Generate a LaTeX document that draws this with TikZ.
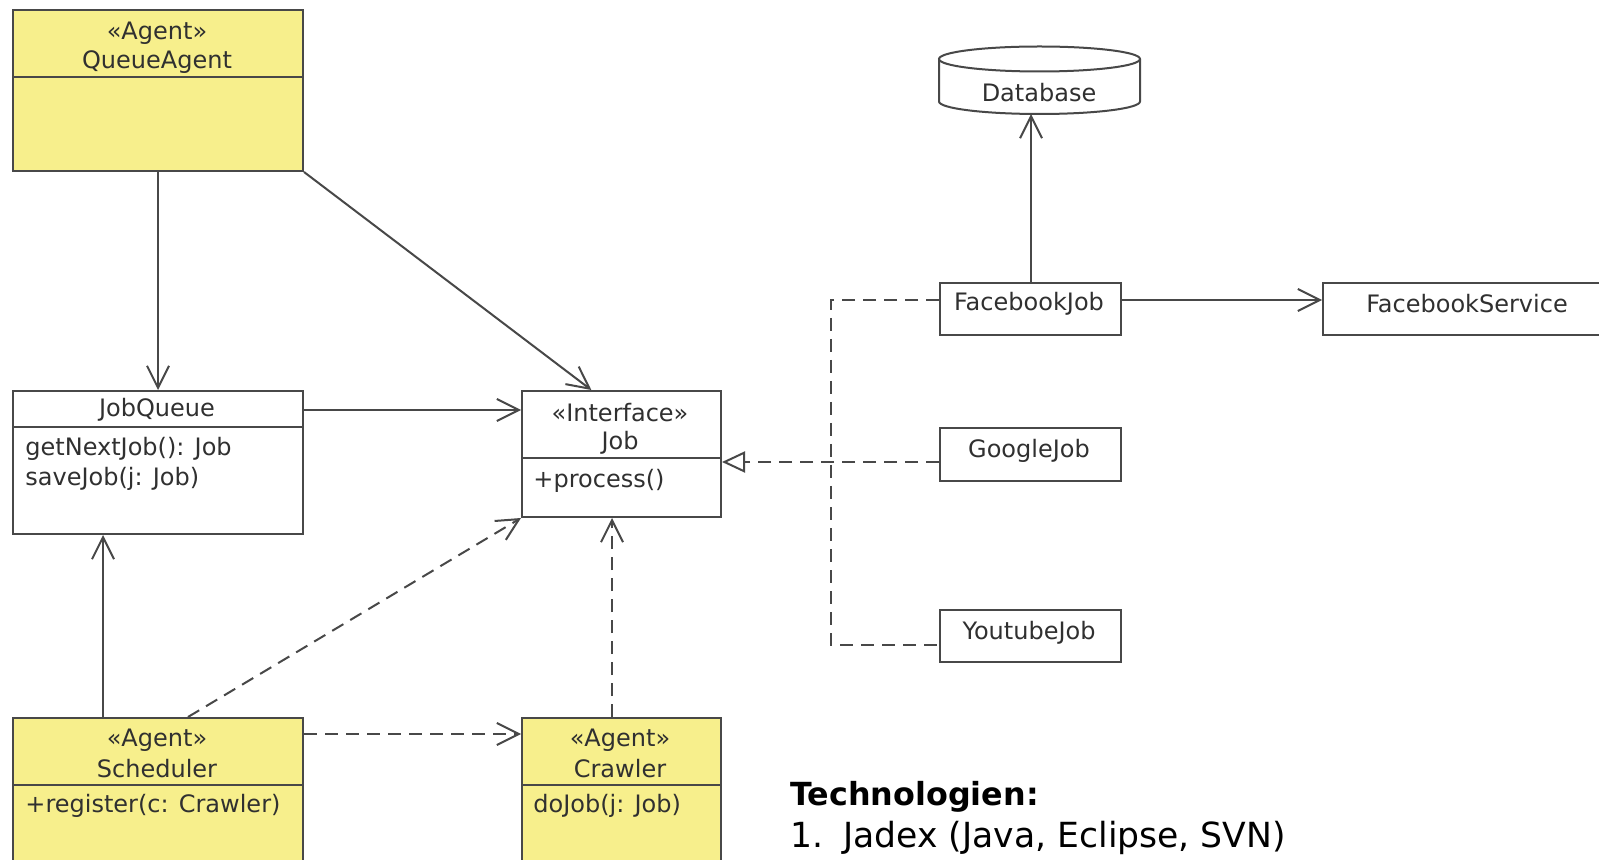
\documentclass[tikz,border=0pt]{standalone}
\usepackage{fontspec}
\setmainfont{DejaVu Sans}
\usetikzlibrary{arrows.meta,calc}
\definecolor{agentfill}{RGB}{247,239,140}
\definecolor{umlline}{RGB}{72,72,72}
\definecolor{umltext}{RGB}{48,48,48}

\begin{document}
\begin{tikzpicture}[x=0.5pt,y=-0.5pt,
  box/.style={draw=umlline,line width=1pt,inner sep=0pt,anchor=north west},
  agent/.style={box,fill=agentfill},
  plain/.style={box,fill=white},
  lbl/.style={text=umltext,font=\fontsize{12}{14}\selectfont,inner sep=0pt},
  op/.style={lbl,anchor=west},
  divider/.style={draw=umlline,line width=1pt},
  assoc/.style={draw=umlline,line width=1pt,-{Straight Barb[length=11pt,width=11pt,line width=1pt]}},
  dep/.style={assoc,dash pattern=on 6.5pt off 4pt},
  realize/.style={draw=umlline,line width=1pt,dash pattern=on 6.5pt off 4pt},
  heading/.style={anchor=base west,inner sep=0pt,font=\bfseries\fontsize{15.9}{18}\selectfont},
  item/.style={anchor=base west,inner sep=0pt,font=\fontsize{17.3}{19}\selectfont}]

\clip (0,0) rectangle (1599,860);
\fill[white] (0,0) rectangle (1599,860);

% ---- class boxes ----
\node[agent,minimum width=145pt,minimum height=80.5pt] (qa) at (12,9) {};
\node[plain,minimum width=145pt,minimum height=71.5pt] (jq) at (12,390) {};
\node[plain,minimum width=99.5pt,minimum height=63pt] (job) at (521,390) {};
\node[agent,minimum width=145pt,minimum height=80pt] (sch) at (12,717) {};
\node[agent,minimum width=99.5pt,minimum height=80pt] (cr) at (521,717) {};
\node[plain,minimum width=90.5pt,minimum height=26pt] (fb) at (939,282) {};
\node[plain,minimum width=90.5pt,minimum height=26.5pt] (gj) at (939,427) {};
\node[plain,minimum width=90.5pt,minimum height=26pt] (yj) at (939,609) {};
\node[plain,minimum width=160pt,minimum height=26pt] (fs) at (1322,282) {};

% compartment dividers
\draw[divider] ($(qa.north west)+(0,68)$) -- ($(qa.north east)+(0,68)$);
\draw[divider] ($(jq.north west)+(0,37)$) -- ($(jq.north east)+(0,37)$);
\draw[divider] ($(job.north west)+(0,68)$) -- ($(job.north east)+(0,68)$);
\draw[divider] ($(sch.north west)+(0,68)$) -- ($(sch.north east)+(0,68)$);
\draw[divider] ($(cr.north west)+(0,68)$) -- ($(cr.north east)+(0,68)$);

% database cylinder
\draw[umlline,line width=1pt,fill=white] (939,59) -- (939,101.5)
  arc[start angle=180,end angle=0,x radius=100.5,y radius=12.5] -- (1140,59);
\draw[umlline,line width=1pt,fill=white] (1039.5,59) ellipse[x radius=100.5,y radius=12.5];
\coordinate (dbbottom) at (1031,114);
\node[lbl] (db) at (1039,93) {Database};

% ---- labels ----
\node[lbl] (qa-st) at (157,33) {«Agent»};
\node[lbl] (qa-name) at (157,62) {QueueAgent};

\node[lbl] (jq-name) at (157,410) {JobQueue};
\node[op] (jq-op1) at (25,449) {getNextJob(): Job};
\node[op] (jq-op2) at (25,479) {saveJob(j: Job)};

\node[lbl] (job-st) at (620,413) {«Interface»};
\node[lbl] (job-name) at (620,443) {Job};
\node[op] (job-op) at (533,481) {+process()};

\node[lbl] (sch-st) at (157,740) {«Agent»};
\node[lbl] (sch-name) at (157,769) {Scheduler};
\node[op] (sch-op) at (25,806) {+register(c: Crawler)};

\node[lbl] (cr-st) at (620,740) {«Agent»};
\node[lbl] (cr-name) at (620,769) {Crawler};
\node[op] (cr-op) at (533,806) {doJob(j: Job)};

\node[lbl] (fb-name) at (1029,304) {FacebookJob};
\node[lbl] (gj-name) at (1029,451) {GoogleJob};
\node[lbl] (yj-name) at (1029,633) {YoutubeJob};
\node[lbl] (fs-name) at (1467,304) {FacebookService};

% ---- connectors ----
\draw[assoc] (qa.south) -- (jq.north);
\draw[assoc] (qa.south east) -- ($(job.north west)!0.35!(job.north east)$);
\draw[assoc] ($(jq.north east)+(0,20)$) -- ($(job.north west)+(0,20)$);
\draw[assoc] ($(sch.north west)+(91,0)$) -- ($(jq.south west)+(91,0)$);
\draw[dep] ($(sch.north west)+(176,0)$) -- (job.south west);
\draw[dep] ($(sch.north east)+(0,17)$) -- ($(cr.north west)+(0,17)$);
\draw[dep] ($(cr.north west)+(91,0)$) -- ($(job.south west)+(91,0)$);

\coordinate (trunk) at (831,300);
\draw[realize] ($(fb.north west)+(0,18)$) -- (trunk) -- (trunk |- {$(yj.north west)+(0,36)$}) -- ($(yj.north west)+(0,36)$);
\draw[realize,-{Triangle[open,length=11.5pt,width=10.5pt,line width=1pt,fill=white]}]
  ($(gj.north west)+(0,35)$) -- ($(job.north east)+(0,72)$);

\draw[assoc] ($(fb.north west)+(92,0)$) -- (dbbottom);
\draw[assoc] ($(fb.north east)+(0,18)$) -- ($(fs.north west)+(0,18)$);

% ---- notes ----
\node[heading] (tech) at (790,805) {Technologien:};
\node[item] (tech-num) at (790,847) {1.};
\node[item] (tech-item) at (843,847) {Jadex (Java, Eclipse, SVN)};
\end{tikzpicture}
\end{document}
